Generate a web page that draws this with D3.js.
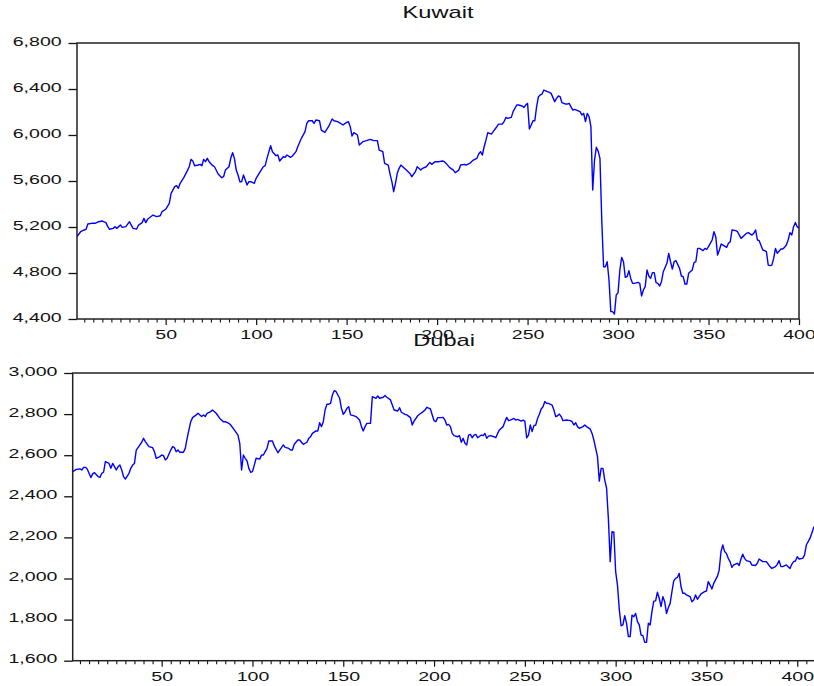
<!DOCTYPE html>
<html>
<head>
<meta charset="utf-8">
<script src="https://cdn.jsdelivr.net/npm/d3@7/dist/d3.min.js"></script>
<style>
  html, body { margin: 0; padding: 0; background: #fff; }
  svg { display: block; }
  text { font-family: "Liberation Sans", Arial, sans-serif; fill: #111; }
</style>
</head>
<body>
<svg id="chart" width="814" height="686"></svg>
<script>
// Kuwait index, observation number and level
const kuwaitObs = [1,3,5,6,7,9,11,13,15,17,18,19,21,22,23,25,26,28,30,31,32,34,35,37,38,39,40,43,45,47,48,50,52,53,55,56,57,58,60,61,62,63,64,65,66,68,69,70,71,72,73,74,76,77,79,81,82,83,85,86,87,88,89,90,91,92,93,94,95,96,97,99,100,102,104,105,106,108,109,111,112,113,115,116,117,119,120,122,123,125,127,128,129,131,132,133,135,136,138,140,142,143,145,146,148,150,151,152,153,154,156,157,159,161,163,165,167,168,170,171,173,174,175,176,177,178,179,180,181,183,185,186,188,189,191,192,194,196,197,199,201,203,204,205,207,209,210,212,213,215,216,218,220,222,223,224,225,226,227,228,230,231,233,234,236,237,238,239,241,242,244,245,247,248,249,250,251,252,253,254,255,256,257,258,259,261,262,263,265,266,267,268,269,271,272,273,275,276,277,279,280,281,282,283,284,285,286,287,288,289,290,291,292,293,294,295,296,297,298,299,300,301,302,303,304,305,306,307,308,309,311,312,313,314,315,316,317,318,319,320,321,322,323,324,325,327,328,329,330,331,332,334,335,336,337,338,339,341,342,343,344,345,347,348,349,350,352,353,354,355,356,357,358,360,361,362,363,365,366,367,368,370,371,372,374,375,376,377,378,380,381,382,383,384,385,386,387,388,390,391,392,393,394,395,396,397,398,399,400];
const kuwaitVal = [5116,5159,5174,5180,5226,5232,5232,5246,5252,5238,5203,5180,5188,5203,5188,5217,5197,5203,5246,5217,5188,5182,5217,5238,5275,5238,5267,5304,5290,5298,5333,5354,5406,5493,5551,5559,5536,5580,5630,5660,5690,5724,5788,5774,5733,5739,5745,5733,5788,5768,5797,5768,5733,5724,5661,5629,5637,5695,5724,5800,5846,5797,5695,5652,5594,5594,5652,5609,5565,5594,5594,5580,5623,5675,5724,5733,5797,5907,5855,5820,5826,5774,5811,5806,5826,5806,5817,5855,5898,5971,6029,6101,6124,6124,6101,6130,6124,6043,6023,6072,6139,6124,6116,6107,6087,6110,6116,6072,5991,6020,6000,5913,5942,5951,5962,5951,5951,5869,5855,5753,5739,5660,5594,5507,5580,5667,5710,5739,5724,5695,5666,5637,5681,5724,5695,5710,5724,5762,5745,5768,5768,5774,5768,5753,5716,5695,5672,5695,5739,5745,5739,5753,5782,5797,5835,5855,5826,5898,5956,6020,6008,6029,6072,6095,6095,6116,6153,6145,6153,6203,6261,6261,6252,6240,6261,6275,6052,6087,6124,6124,6246,6333,6348,6356,6391,6377,6371,6362,6290,6319,6339,6333,6281,6269,6269,6275,6217,6223,6217,6203,6174,6188,6116,6188,6159,6072,5522,5782,5893,5860,5797,5261,4855,4855,4898,4739,4464,4464,4443,4609,4629,4826,4936,4898,4762,4768,4820,4753,4710,4710,4719,4710,4600,4652,4681,4826,4774,4753,4803,4803,4716,4710,4687,4724,4811,4884,4971,4898,4834,4898,4907,4840,4774,4768,4704,4704,4797,4826,4890,4898,5014,5014,4994,5014,5006,5029,5087,5159,5116,4956,5000,5052,5043,5023,5058,5072,5174,5168,5159,5130,5101,5130,5145,5151,5130,5145,5174,5087,5081,5000,4994,4985,4869,4864,4869,4927,5014,4971,5009,5009,5023,5043,5087,5151,5130,5203,5240,5203,5190];

// Dubai index, observation number and level
const dubaiObs = [1,3,5,6,7,8,9,11,12,13,15,16,17,18,19,21,22,23,24,25,26,27,28,29,30,32,33,34,35,36,38,39,40,41,43,45,46,47,49,50,51,52,53,55,56,57,58,59,60,62,63,64,65,66,67,69,70,72,73,74,75,77,78,80,82,84,85,87,88,90,92,93,94,95,96,97,98,99,100,101,102,104,105,106,107,108,109,111,112,114,115,117,118,120,121,122,123,125,126,127,128,130,131,132,133,135,136,137,138,139,140,141,142,143,144,145,146,148,149,150,151,152,153,154,156,157,159,160,161,162,163,165,166,168,169,170,172,173,174,176,177,178,180,181,182,184,185,187,188,189,191,192,194,195,196,198,199,200,201,202,204,205,206,207,208,209,210,211,213,214,215,216,217,218,219,220,221,222,223,224,226,227,228,229,230,231,233,234,235,236,238,239,240,241,242,244,245,246,248,249,250,251,252,253,254,255,256,257,258,259,260,261,262,263,265,266,267,268,269,270,271,273,275,276,277,278,279,280,282,283,284,286,287,288,289,290,291,292,293,294,295,296,297,298,299,300,301,302,303,304,305,306,307,308,309,310,311,312,313,314,315,316,317,318,319,320,321,322,323,324,325,326,327,328,329,330,331,332,333,334,335,336,337,338,339,341,342,343,344,345,346,347,349,350,351,352,353,354,355,356,357,358,359,360,361,362,363,364,365,367,368,369,370,371,372,374,375,377,378,379,381,383,385,386,388,389,390,391,392,394,396,397,398,399,400,401,403,404,405,407,408,409,410];
const dubaiVal = [2520,2531,2533,2528,2541,2541,2533,2491,2509,2515,2496,2492,2512,2517,2569,2560,2536,2560,2544,2528,2544,2552,2528,2496,2484,2512,2536,2552,2560,2625,2650,2663,2682,2666,2642,2637,2617,2585,2593,2601,2598,2577,2585,2625,2642,2637,2617,2625,2614,2614,2633,2682,2723,2763,2783,2796,2804,2788,2796,2788,2804,2812,2820,2804,2779,2763,2763,2755,2747,2723,2698,2658,2528,2601,2585,2572,2536,2517,2520,2552,2585,2581,2601,2601,2617,2633,2669,2669,2645,2612,2625,2650,2638,2633,2625,2625,2653,2674,2674,2663,2653,2663,2682,2690,2706,2718,2718,2758,2739,2763,2820,2848,2848,2852,2893,2914,2910,2877,2828,2799,2810,2828,2836,2796,2791,2788,2771,2739,2718,2739,2755,2755,2885,2877,2888,2877,2882,2890,2882,2869,2844,2820,2815,2831,2809,2799,2796,2783,2747,2766,2792,2799,2812,2820,2833,2825,2796,2768,2763,2783,2783,2784,2771,2747,2750,2739,2706,2695,2690,2695,2663,2682,2658,2650,2698,2701,2685,2698,2701,2685,2698,2695,2706,2682,2693,2695,2690,2685,2706,2723,2739,2763,2784,2768,2771,2779,2771,2774,2766,2771,2766,2685,2698,2747,2715,2744,2747,2779,2799,2825,2836,2861,2852,2852,2844,2820,2788,2792,2800,2788,2768,2771,2768,2763,2747,2758,2739,2731,2739,2747,2739,2727,2706,2674,2633,2593,2474,2536,2536,2479,2440,2290,2082,2228,2225,2033,1968,1850,1770,1774,1819,1782,1717,1717,1822,1814,1830,1790,1774,1725,1722,1689,1689,1782,1774,1840,1890,1891,1933,1904,1863,1912,1887,1830,1858,1879,1936,1988,2001,2005,2025,1960,1928,1928,1920,1912,1887,1895,1920,1899,1912,1925,1936,1939,1985,1968,1949,1976,1993,2010,2040,2130,2163,2131,2122,2098,2082,2054,2066,2074,2063,2095,2118,2098,2087,2082,2066,2063,2074,2095,2082,2082,2058,2049,2058,2069,2087,2058,2058,2066,2049,2069,2082,2085,2106,2095,2098,2114,2163,2195,2220,2247,2260];

// Axis settings
const kuwaitYTicks = [4400, 4800, 5200, 5600, 6000, 6400, 6800];
const dubaiYTicks = [1600, 1800, 2000, 2200, 2400, 2600, 2800, 3000];
const kuwaitXMax = 400;
const dubaiXMax = 410;

const fmt = d3.format(",");
const svg = d3.select("#chart");
const TEXT_STRETCH = 1.45;

const panels = [
  { title: "Kuwait", obs: kuwaitObs, val: kuwaitVal, yTicks: kuwaitYTicks, xMax: kuwaitXMax,
    left: 77, right: 799, top: 43, bottom: 319, titleY: 17.5 },
  { title: "Dubai", obs: dubaiObs, val: dubaiVal, yTicks: dubaiYTicks, xMax: dubaiXMax,
    left: 72.7, right: 815.4, top: 373, bottom: 660.7, titleY: 346 }
];

panels.forEach(p => {
  const x = d3.scaleLinear().domain([1, p.xMax]).range([p.left, p.right]);
  const y = d3.scaleLinear().domain([d3.min(p.yTicks), d3.max(p.yTicks)]).range([p.bottom, p.top]);
  const g = svg.append("g");

  // left axis with comma-formatted labels
  const yAxis = g.append("g")
    .attr("transform", `translate(${p.left},0)`)
    .call(d3.axisLeft(y).tickValues(p.yTicks).tickFormat(fmt).tickSize(8.5).tickPadding(0));
  yAxis.select(".domain").remove();
  yAxis.selectAll(".tick line").attr("stroke", "#111").attr("stroke-width", 1.3);
  yAxis.selectAll(".tick text")
    .attr("x", null).attr("dy", null)
    .attr("transform", `translate(-15.3,2.2) scale(${TEXT_STRETCH},1)`)
    .attr("text-anchor", "end")
    .style("font-size", "13.5px")
    .style("font-family", null).attr("font-family", null).attr("font-size", null)
    .attr("fill", "#111");

  // minor ticks on the observation axis
  const minor = d3.range(5, p.xMax + 1, 5).filter(v => v % 50 !== 0);
  const major = d3.range(50, p.xMax + 1, 50);
  const xMinor = g.append("g")
    .attr("transform", `translate(0,${p.bottom})`)
    .call(d3.axisBottom(x).tickValues(minor).tickSize(3.5).tickFormat(""));
  xMinor.select(".domain").remove();
  xMinor.selectAll(".tick line").attr("stroke", "#111").attr("stroke-width", 1.1);

  const xMajor = g.append("g")
    .attr("transform", `translate(0,${p.bottom})`)
    .call(d3.axisBottom(x).tickValues(major).tickSize(6).tickFormat(d3.format("d")));
  xMajor.select(".domain").remove();
  xMajor.selectAll(".tick line").attr("stroke", "#111").attr("stroke-width", 1.2);
  xMajor.selectAll(".tick text")
    .attr("y", null).attr("dy", null)
    .attr("transform", `translate(0,20) scale(${TEXT_STRETCH},1)`)
    .attr("text-anchor", "middle")
    .style("font-size", "13.5px")
    .attr("font-family", null).attr("font-size", null)
    .attr("fill", "#111");

  // plot frame
  g.append("rect")
    .attr("x", p.left).attr("y", p.top)
    .attr("width", p.right - p.left).attr("height", p.bottom - p.top)
    .attr("fill", "none").attr("stroke", "#222").attr("stroke-width", 1.5);

  // series line
  const pts = p.obs.map((o, i) => [o, p.val[i]]);
  g.append("path")
    .datum(pts)
    .attr("fill", "none")
    .attr("stroke", "#0000ff")
    .attr("stroke-width", 1.4)
    .attr("stroke-linejoin", "round")
    .attr("d", d3.line().x(d => x(d[0])).y(d => y(d[1])));

  // panel title
  svg.append("text")
    .attr("transform", `translate(${(p.left + p.right) / 2},${p.titleY}) scale(1.39,1)`)
    .attr("text-anchor", "middle")
    .style("font-size", "17px")
    .text(p.title);
});
</script>
</body>
</html>
